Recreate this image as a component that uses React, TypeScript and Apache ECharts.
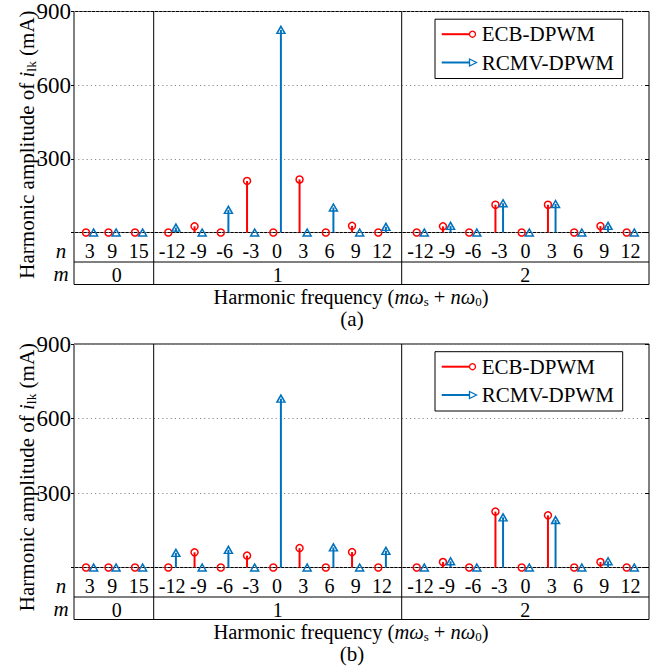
import React, { useEffect, useRef } from 'react';
import * as echarts from 'echarts';

// ---------------- data ----------------
const nOrdersM0 = [3, 9, 15];
const nOrders = [-12, -9, -6, -3, 0, 3, 6, 9, 12];
const mOrders = [0, 1, 2];
const yTicks = [0, 300, 600, 900];

// panel (a)
const ecbA_m0 = [0, 0, 0];
const rcmvA_m0 = [0, 0, 0];
const ecbA_m1 = [0, 25, 0, 210, 0, 216, 0, 27, 0];
const rcmvA_m1 = [20, 0, 92, 0, 825, 0, 102, 0, 23];
const ecbA_m2 = [0, 25, 0, 113, 0, 113, 0, 26, 0];
const rcmvA_m2 = [0, 27, 0, 119, 0, 116, 0, 27, 0];

// panel (b)
const ecbB_m0 = [0, 0, 0];
const rcmvB_m0 = [0, 0, 0];
const ecbB_m1 = [0, 61, 0, 48, 0, 78, 0, 62, 0];
const rcmvB_m1 = [59, 0, 71, 0, 680, 0, 81, 0, 67];
const ecbB_m2 = [0, 22, 0, 225, 0, 210, 0, 22, 0];
const rcmvB_m2 = [0, 25, 0, 202, 0, 191, 0, 25, 0];

const seriesNames = ['ECB-DPWM', 'RCMV-DPWM'];
const captions = ['(a)', '(b)'];

// ---------------- layout / style ----------------
const FONT = "'Liberation Serif', 'Times New Roman', serif";
const RED = '#FF0000';
const BLUE = '#0072BD';
const X_MAX = 575;
const GRID_LEFT = 74;
const GRID_TOPS = [9, 344];
const GRID_H = 223.5;
const BLUE_DX = 7.6;
const SECTION_EDGES = [0, 79.7, 327.7, X_MAX];

const redX = (section: number, k: number) => {
  if (section === 0) return [12, 34.5, 61][k];
  if (section === 1) return 94.3 + 26.25 * k;
  return 342.7 + 26.25 * k;
};

const panels = [
  { ecb: [ecbA_m0, ecbA_m1, ecbA_m2], rcmv: [rcmvA_m0, rcmvA_m1, rcmvA_m2] },
  { ecb: [ecbB_m0, ecbB_m1, ecbB_m2], rcmv: [rcmvB_m0, rcmvB_m1, rcmvB_m2] },
];

const sectionOrders = (s: number) => (s === 0 ? nOrdersM0 : nOrders);

function buildPoints(arrs: number[][], dx: number) {
  const pts: number[][] = [];
  arrs.forEach((vals, s) => {
    vals.forEach((v, k) => pts.push([redX(s, k) + dx, v]));
  });
  return pts;
}

function stemSeries(gi: number, data: number[][], color: string) {
  return {
    type: 'custom',
    xAxisIndex: gi,
    yAxisIndex: gi * 2,
    data,
    z: 3,
    renderItem: (params: any, api: any) => {
      const x = api.value(0);
      const v = api.value(1);
      if (!v) return null;
      const p0 = api.coord([x, 0]);
      const p1 = api.coord([x, v]);
      return {
        type: 'line',
        shape: { x1: p0[0], y1: p0[1], x2: p1[0], y2: p1[1] },
        style: { stroke: color, lineWidth: 2 },
      };
    },
  };
}

function markerSeries(gi: number, name: string, data: number[][], color: string, symbol: string, size: any) {
  return {
    type: 'scatter',
    name,
    xAxisIndex: gi,
    yAxisIndex: gi * 2,
    data,
    symbol,
    symbolSize: size,
    z: 4,
    itemStyle: { color: 'rgba(0,0,0,0)', borderColor: color, borderWidth: 1.5, opacity: 1 },
    emphasis: { disabled: true },
  };
}

export default function App() {
  const ref = useRef<HTMLDivElement>(null);

  useEffect(() => {
    if (!ref.current) return;
    const chart = echarts.init(ref.current, undefined, { renderer: 'svg' });

    const grids = GRID_TOPS.map((t) => ({
      left: GRID_LEFT,
      top: t,
      width: X_MAX,
      height: GRID_H,
      show: true,
      borderColor: '#000',
      borderWidth: 1,
      backgroundColor: 'transparent',
    }));

    const xAxes = GRID_TOPS.map((_, gi) => ({
      type: 'value',
      gridIndex: gi,
      min: 0,
      max: X_MAX,
      show: false,
    }));

    const yAxes: any[] = [];
    GRID_TOPS.forEach((_, gi) => {
      yAxes.push({
        type: 'value',
        gridIndex: gi,
        min: yTicks[0],
        max: yTicks[yTicks.length - 1],
        interval: yTicks[1] - yTicks[0],
        position: 'left',
        axisLine: { show: false },
        axisTick: { show: true, inside: false, length: 3, lineStyle: { color: '#000' } },
        axisLabel: {
          fontSize: 23,
          fontFamily: FONT,
          color: '#000',
          margin: 3,
          formatter: (v: number) => (v === 0 ? '' : String(v)),
        },
        splitLine: { show: true, lineStyle: { color: '#8c8c8c', type: [1.2, 3], width: 1 } },
      });
      yAxes.push({
        type: 'value',
        gridIndex: gi,
        min: yTicks[0],
        max: yTicks[yTicks.length - 1],
        interval: yTicks[1] - yTicks[0],
        position: 'right',
        axisLine: { show: false },
        axisTick: { show: true, inside: true, length: 4, lineStyle: { color: '#000' } },
        axisLabel: { show: false },
        splitLine: { show: false },
      });
    });

    const series: any[] = [];
    panels.forEach((p, gi) => {
      const ecbPts = buildPoints(p.ecb, 0);
      const rcmvPts = buildPoints(p.rcmv, BLUE_DX);
      series.push(stemSeries(gi, ecbPts, RED));
      series.push(stemSeries(gi, rcmvPts, BLUE));
      series.push(markerSeries(gi, seriesNames[0], ecbPts, RED, 'circle', 7));
      series.push(markerSeries(gi, seriesNames[1], rcmvPts, BLUE, 'triangle', [8, 7]));
    });

    chart.setOption({
      animation: false,
      backgroundColor: '#fff',
      grid: grids,
      xAxis: xAxes,
      yAxis: yAxes,
      series,
    });

    // ---- graphics: table, labels, legend, titles ----
    const g: any[] = [];
    const txt = (x: number, y: number, text: string, size: number, extra: any = {}) => ({
      type: 'text',
      x,
      y,
      silent: true,
      style: {
        text,
        fill: '#000',
        fontSize: size,
        fontFamily: FONT,
        align: 'center',
        verticalAlign: 'middle',
        ...extra,
      },
    });
    const line = (x1: number, y1: number, x2: number, y2: number, color = '#000', w = 1) => ({
      type: 'line',
      silent: true,
      shape: { x1, y1, x2, y2 },
      style: { stroke: color, lineWidth: w },
    });

    GRID_TOPS.forEach((_, gi) => {
      const px = (x: number, y: number) => chart.convertToPixel({ gridIndex: gi }, [x, y]) as number[];
      const base = px(0, 0)[1];
      const top = px(0, yTicks[yTicks.length - 1])[1];
      const left = px(0, 0)[0];
      const right = px(X_MAX, 0)[0];
      const row1 = base + 29.5;
      const row2 = base + 52;

      // section dividers
      SECTION_EDGES.slice(1, -1).forEach((e) => {
        const x = px(e, 0)[0];
        g.push(line(x, top, x, row2));
      });
      // table frame
      g.push(line(left, base, left, row2));
      g.push(line(right, base, right, row2));
      g.push(line(left, row1, right, row1));
      g.push(line(left, row2, right, row2));

      // n labels
      mOrders.forEach((m, s) => {
        const orders = sectionOrders(s);
        orders.forEach((n, k) => {
          const x = px(redX(s, k) + BLUE_DX / 2, 0)[0];
          g.push(txt(x, base + 18.5, String(n), 20));
        });
        const a = px(SECTION_EDGES[s], 0)[0];
        const b = px(SECTION_EDGES[s + 1], 0)[0];
        g.push(txt((a + b) / 2 + (s === 0 ? 3 : 0), base + 42, String(m), 20));
      });
      g.push(txt(61, base + 18, 'n', 21, { fontStyle: 'italic' }));
      g.push(txt(61, base + 41, 'm', 21, { fontStyle: 'italic' }));

      // x title
      const richX = {
        r: { fontSize: 20.5, fontFamily: FONT, fill: '#000', lineHeight: 22 },
        i: { fontSize: 20.5, fontFamily: FONT, fontStyle: 'italic', fill: '#000', lineHeight: 22 },
        s: { fontSize: 13, fontFamily: FONT, fill: '#000', lineHeight: 12, verticalAlign: 'bottom' },
      };
      g.push({
        type: 'text',
        x: 351,
        y: base + 64,
        silent: true,
        style: {
          text: '{r|Harmonic frequency (}{i|mω}{s|s}{r| + }{i|nω}{s|0}{r|)}',
          rich: richX,
          align: 'center',
          verticalAlign: 'middle',
          fill: '#000',
          fontFamily: FONT,
          fontSize: 20.5,
        },
      });
      g.push(txt(352, base + 86, captions[gi], 21));

      // y title (rotated)
      g.push({
        type: 'text',
        x: 27,
        y: top + 133,
        rotation: Math.PI / 2,
        silent: true,
        style: {
          text: '{r|Harmonic amplitude of }{i|i}{s|lk}{r| (mA)}',
          rich: {
            r: { fontSize: 21, fontFamily: FONT, fill: '#000', lineHeight: 23 },
            i: { fontSize: 21, fontFamily: FONT, fontStyle: 'italic', fill: '#000', lineHeight: 23 },
            s: { fontSize: 13.5, fontFamily: FONT, fill: '#000', lineHeight: 12, verticalAlign: 'bottom' },
          },
          align: 'center',
          verticalAlign: 'middle',
          fill: '#000',
          fontFamily: FONT,
          fontSize: 21,
        },
      });

      // legend
      const lx = right - 214;
      const ly = top + 7.7;
      g.push({
        type: 'rect',
        silent: true,
        shape: { x: lx, y: ly, width: 187.7, height: 59.3 },
        style: { fill: '#fff', stroke: '#000', lineWidth: 1 },
        z: 10,
      });
      const r1 = ly + 15;
      const r2 = ly + 43.3;
      const withZ = (o: any) => ({ ...o, z: 11 });
      g.push(withZ(line(lx + 6.7, r1, lx + 34.5, r1, RED, 2)));
      g.push(withZ({
        type: 'circle',
        silent: true,
        shape: { cx: lx + 37.5, cy: r1, r: 3 },
        style: { fill: '#fff', stroke: RED, lineWidth: 1.3 },
      }));
      g.push(withZ(line(lx + 6.7, r2, lx + 35, r2, BLUE, 2)));
      g.push(withZ({
        type: 'polygon',
        silent: true,
        shape: { points: [[lx + 34.5, r2 - 3.5], [lx + 41.5, r2], [lx + 34.5, r2 + 3.5]] },
        style: { fill: '#fff', stroke: BLUE, lineWidth: 1.3 },
      }));
      g.push(withZ(txt(lx + 46.7, r1, seriesNames[0], 21, { align: 'left' })));
      g.push(withZ(txt(lx + 46.7, r2, seriesNames[1], 21, { align: 'left' })));
    });

    chart.setOption({ graphic: g });

    return () => chart.dispose();
  }, []);

  return (
    <div
      ref={ref}
      style={{ position: 'fixed', left: 0, top: 0, width: 662, height: 672, background: '#fff' }}
    />
  );
}
